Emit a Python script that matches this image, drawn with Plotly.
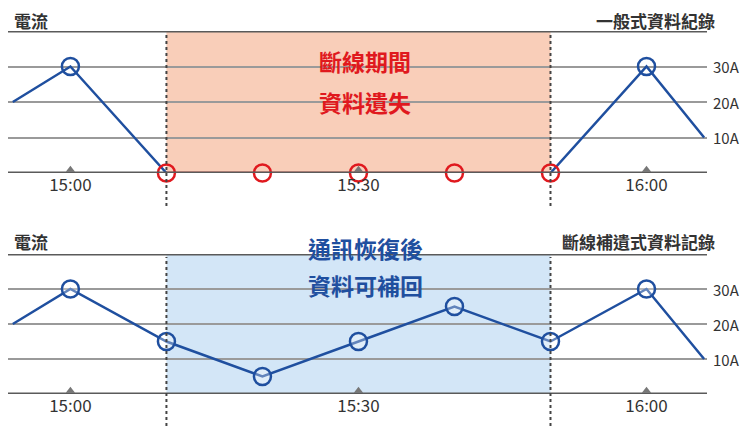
import plotly.graph_objects as go

# minutes relative to 15:00
minutes = [-6, 0, 10, 20, 30, 40, 50, 60, 66]
top_values = [20, 30, 0, 0, 0, 0, 0, 30, 10]
bottom_values = [20, 30, 15, 5, 15, 25, 15, 30, 10]
tick_minutes = [0, 30, 60]
tick_labels = ["15:00", "15:30", "16:00"]
y_ticks = [10, 20, 30]
y_tick_labels = ["10A", "20A", "30A"]
gap_start, gap_end = 10, 50

BLUE = "#1f4f9f"
RED = "#e0191e"
FONT = "Noto Sans CJK TC"
H = 438.0
XD = [0, 0.932]
XR = [-6.5, 66.3]
OFF = -7

fig = go.Figure()

def ydom(top_px, bot_px):
    return [1 - (bot_px + OFF) / H, 1 - (top_px + OFF) / H]

fig.update_layout(
    width=750, height=438, margin=dict(l=0, r=0, t=0, b=0),
    plot_bgcolor="white", paper_bgcolor="white", showlegend=False,
    font=dict(family=FONT, color="#333"),
    xaxis=dict(domain=XD, range=XR, anchor="y", showgrid=False, zeroline=False,
               tickvals=tick_minutes, ticktext=tick_labels, ticks="", tickfont=dict(size=17, color="#333")),
    yaxis=dict(domain=ydom(30, 172), range=[0, 40], showgrid=True, gridcolor="#9a9a9a", gridwidth=2,
               tickvals=y_ticks, showticklabels=False, zeroline=False),
    xaxis2=dict(domain=XD, range=XR, anchor="y2", showgrid=False, zeroline=False,
                tickvals=tick_minutes, ticktext=tick_labels, ticks="", tickfont=dict(size=17, color="#333")),
    yaxis2=dict(domain=ydom(253, 393), range=[0, 40], showgrid=True, gridcolor="#9a9a9a", gridwidth=2,
                tickvals=y_ticks, showticklabels=False, zeroline=False, anchor="x2"),
)

shapes = []
for xr, yr, col in [("x", "y", "rgba(247,185,155,0.7)"), ("x2", "y2", "rgba(200,224,245,0.8)")]:
    shapes.append(dict(type="rect", xref=xr, yref=yr, x0=gap_start, x1=gap_end, y0=0, y1=40,
                       fillcolor=col, line=dict(width=0), layer="below"))
for xr, yr in [("x", "y"), ("x2", "y2")]:
    for yv in [0, 40]:
        shapes.append(dict(type="line", xref=xr + " domain", yref=yr, x0=0, x1=1, y0=yv, y1=yv,
                           line=dict(color="#5a5a5a", width=3)))
for xr, y0p, y1p in [("x", 32, 205), ("x2", 256, 425)]:
    for xv in [gap_start, gap_end]:
        shapes.append(dict(type="line", xref=xr, yref="paper", x0=xv, x1=xv,
                           y0=1 - (y1p + OFF) / H, y1=1 - (y0p + OFF) / H,
                           line=dict(color="#444", width=2, dash="dot")))
fig.update_layout(shapes=shapes)

def sc(**kw):
    fig.add_trace(go.Scatter(cliponaxis=False, **kw))

sc(x=minutes[:3], y=top_values[:3], mode="lines", line=dict(color=BLUE, width=2.5), xaxis="x", yaxis="y")
sc(x=minutes[6:], y=top_values[6:], mode="lines", line=dict(color=BLUE, width=2.5), xaxis="x", yaxis="y")
sc(x=minutes[2:7], y=top_values[2:7], mode="lines", line=dict(color=RED, width=2.5), xaxis="x", yaxis="y")
for xr, yr in [("x", "y"), ("x2", "y2")]:
    sc(x=tick_minutes, y=[0.9] * 3, mode="markers", xaxis=xr, yaxis=yr,
       marker=dict(symbol="triangle-up", size=8, color="#777"))
sc(x=[minutes[1], minutes[7]], y=[top_values[1], top_values[7]], mode="markers",
   marker=dict(size=17, color="rgba(255,255,255,0)", line=dict(color=BLUE, width=2.5)), xaxis="x", yaxis="y")
sc(x=minutes[2:7], y=top_values[2:7], mode="markers",
   marker=dict(size=17, color="rgba(255,255,255,0)", line=dict(color=RED, width=2.5)), xaxis="x", yaxis="y")
sc(x=minutes, y=bottom_values, mode="lines", line=dict(color=BLUE, width=2.5), xaxis="x2", yaxis="y2")
sc(x=minutes[1:8], y=bottom_values[1:8], mode="markers",
   marker=dict(size=17, color="rgba(255,255,255,0.3)", line=dict(color=BLUE, width=2.5)), xaxis="x2", yaxis="y2")

ann = []
for yr in ["y", "y2"]:
    for v, t in zip(y_ticks, y_tick_labels):
        ann.append(dict(xref="paper", yref=yr, x=0.937, y=v, text=t, showarrow=False, xanchor="left",
                        font=dict(size=15, color="#333")))
def top(px, text, x, xanchor, size, color):
    ann.append(dict(xref="paper", yref="paper", x=x, y=1 - (px + OFF) / H, text="<b>%s</b>" % text,
                    showarrow=False, xanchor=xanchor, yanchor="middle", font=dict(size=size, color=color)))
top(20, "電流", 0.005, "left", 17, "#333")
top(20, "一般式資料紀錄", 0.945, "right", 17, "#333")
top(240, "電流", 0.005, "left", 17, "#333")
top(240, "斷線補遺式資料記錄", 0.945, "right", 17, "#333")
top(60, "斷線期間", 0.476, "center", 23, RED)
top(101, "資料遺失", 0.476, "center", 23, RED)
top(247, "通訊恢復後", 0.476, "center", 23, BLUE)
top(284, "資料可補回", 0.476, "center", 23, BLUE)
fig.update_layout(annotations=ann)
fig.write_html("out.html")
